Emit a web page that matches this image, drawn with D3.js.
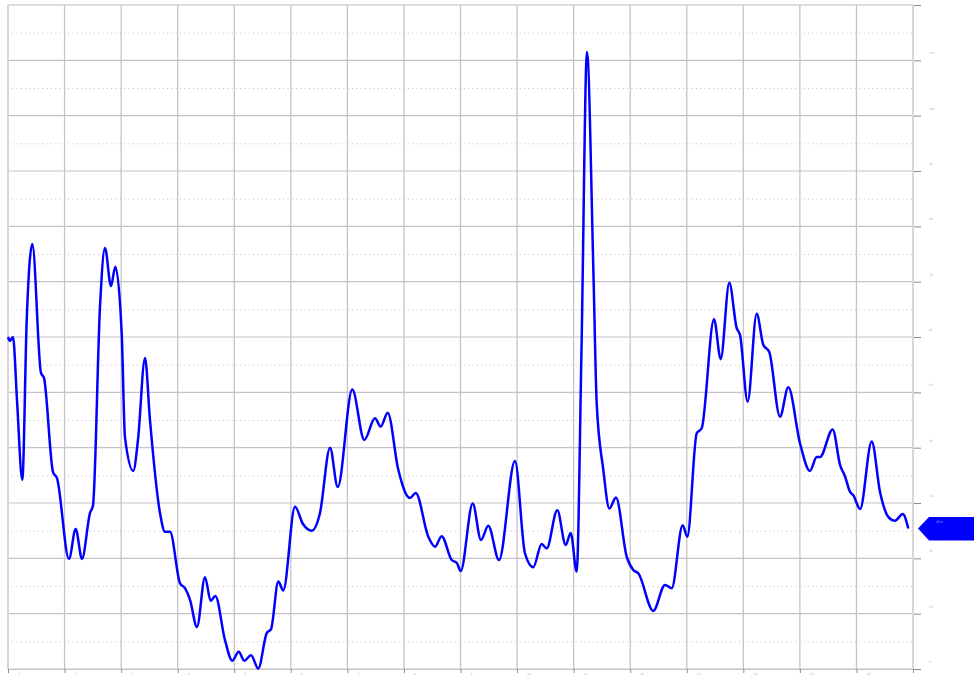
<!DOCTYPE html>
<html>
<head>
<meta charset="utf-8">
<script src="https://cdn.jsdelivr.net/npm/d3@7"></script>
<style>
html,body{margin:0;padding:0;background:#fff;}
svg{display:block;}
</style>
</head>
<body>
<svg id="chart" width="974" height="675"></svg>
<script>
// time position (grid units) of each sample
const xPositions = [0,0.35,0.88,1.59,2.53,3.31,4.30,5.83,6.36,7.96,8.66,10.78,11.97,13.08,14.50,15.03,16.26,17.15,18.21,18.97,20.10,20.68,22.15,22.98,24.22,25.10,26.87,27.76,28.64,30.41,31.29,32.18,33.41,34.83,35.84,36.65,38.37,39.65,40.79,41.78,42.96,44.25,45.74,46.50,47.79,48.67,50.74,52.15,53.69,55.16,56.93,58.29,60.87,62.99,64.88,65.89,67.13,69.00,71.07,72.08,74.31,75.49,76.67,78.44,79.33,80.03,82.16,83.62,84.91,86.81,89.63,91.40,92.87,94.35,95.24,97.11,98.60,99.48,100.54,101.39,102.36,103.49,104.08,105.25,106.31,107.49,109.38,110.55,111.43,114.08,116.15,117.34,119.28,120.10,121.76,122.64,124.82,126.00,127.52,128.83,129.41,130.77,132.36,133.53,134.59,136.48,137.95,140.02,141.79,142.97,143.56,145.80,147.10,147.98,148.87,149.45,150.64,152.70,154.17,155.63,156.82,158.18,159.17];
// series values
const seriesValues = [60.0,59.3,60.0,48.6,34.2,63.1,76.8,53.5,52.6,35.6,34.5,19.9,25.3,19.9,28.2,29.6,65.4,76.1,69.2,72.7,60.7,41.9,35.8,41.4,56.2,45.0,28.2,24.8,24.8,15.5,14.6,12.5,7.6,16.6,12.3,13.2,5.2,1.5,3.1,1.5,2.5,0.1,6.5,7.2,15.8,14.2,29.3,26.2,25.0,28.2,40.0,32.9,50.5,41.4,45.3,43.8,46.3,36.0,30.9,31.8,23.9,22.1,24.0,19.7,19.2,17.7,29.9,23.3,25.9,19.7,37.6,20.9,18.4,22.6,21.8,28.7,22.4,24.6,17.6,57.6,111.5,72.1,48.0,36.0,29.0,31.0,20.3,17.9,17.3,10.5,15.2,14.6,26.0,23.9,42.6,43.5,63.2,56.0,69.8,61.6,60.4,48.3,64.2,58.6,57.3,45.6,50.9,40.8,35.8,38.3,38.3,43.3,36.9,34.8,32.0,31.4,28.9,41.1,32.0,27.5,26.8,28.0,25.4];
// tick labels
const xTickValues = [0,10,20,30,40,50,60,70,80,90,100,110,120,130,140,150,160];
const xTickLabels = ["1","2","3","4","5","6","7","8","9","10","11","12","13","14","15","16",""];
const yTickValues = [0,10,20,30,40,50,60,70,80,90,100,110,120];
const yMinorValues = [5,15,25,35,45,55,65,75,85,95,105,115];
const yTickLabels = ["0","10","20","30","40","50","60","70","80","90","100","110","120"];

const svg = d3.select("#chart");
const x = d3.scaleLinear().domain([0,160]).range([8,913]);
const y = d3.scaleLinear().domain([0,120]).range([669,5]);
const data = xPositions.map((p,i)=>({p, v: seriesValues[i]}));

// dotted minor horizontal lines
svg.append("g").selectAll("line").data(yMinorValues).join("line")
  .attr("x1", x(0)).attr("x2", x(160))
  .attr("y1", d=>y(d)+0.5).attr("y2", d=>y(d)+0.5)
  .attr("stroke","#bdbdbd").attr("stroke-width",1).attr("stroke-dasharray","1,3.3");

// solid horizontal grid + right ticks
const yAxis = d3.axisRight(y).tickValues(yTickValues).tickSize(8).tickFormat("");
const gy = svg.append("g").attr("transform",`translate(${x(160)},0)`).call(yAxis);
gy.select(".domain").remove();
gy.selectAll(".tick line").attr("stroke","#8a8a8a").attr("stroke-width",1);
svg.append("g").selectAll("line").data(yTickValues).join("line")
  .attr("x1", x(0)).attr("x2", x(160))
  .attr("y1", d=>y(d)).attr("y2", d=>y(d))
  .attr("stroke", d=> d===120 ? "#dcdcdc" : "#c4c4c4")
  .attr("stroke-width", d=> d===120 ? 2 : 1.2);

// vertical grid + bottom ticks
svg.append("g").selectAll("line").data(xTickValues).join("line")
  .attr("x1", d=>x(d)).attr("x2", d=>x(d))
  .attr("y1", y(120)).attr("y2", y(0))
  .attr("stroke", d=> (d===0||d===160) ? "#d6d6d6" : "#c4c4c4")
  .attr("stroke-width", d=> (d===0||d===160) ? 2 : 1.3);
const xAxis = d3.axisBottom(x).tickValues(xTickValues).tickSize(4).tickFormat("");
const gx = svg.append("g").attr("transform",`translate(0,${y(0)})`).call(xAxis);
gx.select(".domain").attr("stroke","#c4c4c4");
gx.selectAll(".tick line").attr("stroke","#8a8a8a");

// tiny labels
svg.append("g").selectAll("text").data(xTickValues.slice(0,16)).join("text")
  .attr("x", d=>x(d)+10).attr("y", y(0)+6)
  .attr("font-family","DejaVu Sans").attr("font-size",3).attr("fill","#b5b5b5")
  .text((d,i)=>xTickLabels[i]);
svg.append("g").selectAll("text").data(yTickValues.slice(0,12)).join("text")
  .attr("x", x(160)+16).attr("y", d=>y(d)-6)
  .attr("font-family","DejaVu Sans").attr("font-size",3).attr("fill","#b5b5b5")
  .text((d,i)=>yTickLabels[i]);

// series line
const line = d3.line().x(d=>x(d.p)).y(d=>y(d.v)).curve(d3.curveMonotoneX);
svg.append("path").datum(data).attr("d", line)
  .attr("fill","none").attr("stroke","#0000ff").attr("stroke-width",2.5)
  .attr("stroke-linejoin","round");

// last value marker
const last = data[data.length-1];
const ly = y(last.v);
const mx = x(160)+5;
svg.append("path")
  .attr("d", `M${mx},${ly} L${mx+11},${ly-11.5} L974,${ly-11.5} L974,${ly+12} L${mx+11},${ly+12} Z`)
  .attr("fill","#0000ff");
svg.append("text").attr("x", mx+18).attr("y", ly-5)
  .attr("font-family","DejaVu Sans").attr("font-size",3).attr("fill","#ccd")
  .text(last.v.toFixed(1));
</script>
</body>
</html>
